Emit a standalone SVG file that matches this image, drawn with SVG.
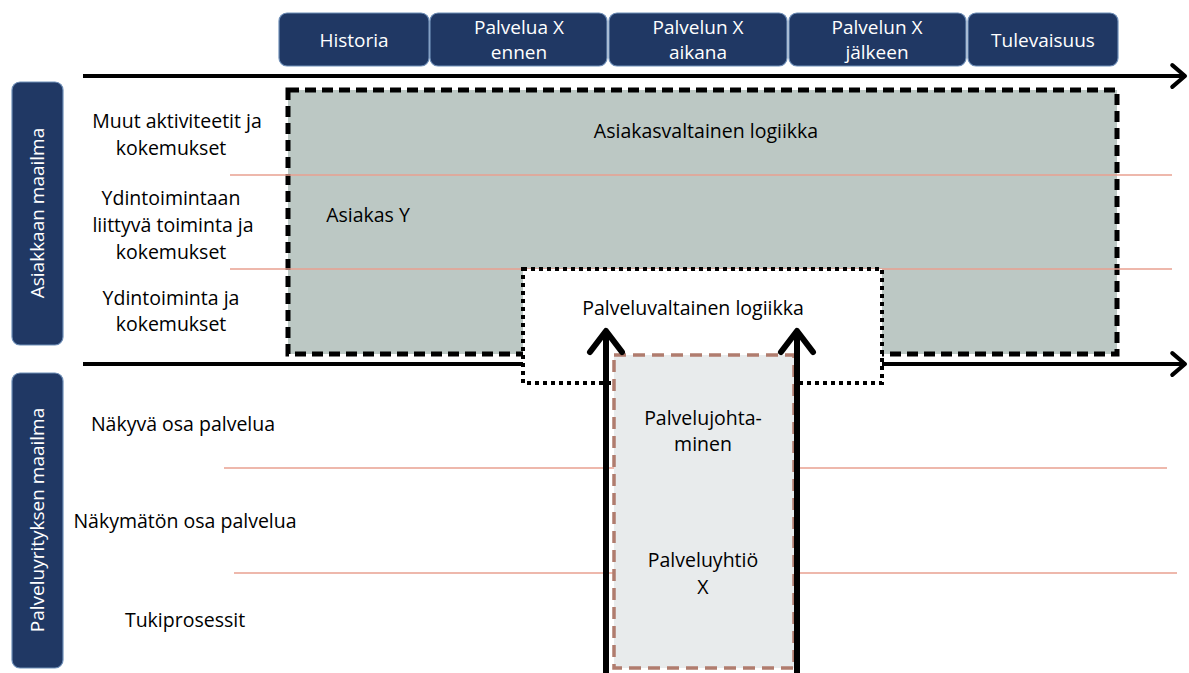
<svg xmlns="http://www.w3.org/2000/svg" width="1189" height="673" viewBox="0 0 1189 673">
<style>
text{font-family:"Open Sans","Liberation Sans",Arial,sans-serif;fill:#000;font-size:19.5px;text-anchor:middle}
.hdr rect,.side rect{fill:#203864;stroke:#6f8fb8;stroke-width:1.2}
.hdr text,.side text{fill:#fff;font-size:19px}
.sep{stroke:#e8a090;stroke-width:1.3}
.axis{stroke:#000;stroke-width:4;fill:none}
.up{stroke:#000;stroke-width:6;fill:none}
</style>
<defs>
<marker id="chev" markerWidth="20" markerHeight="30" refX="0" refY="0" orient="auto" markerUnits="userSpaceOnUse" viewBox="-20 -15 22 30" overflow="visible">
<path d="M-14,-12 L0,0 L-14,12" fill="none" stroke="#000" stroke-width="4.5" stroke-linecap="round" stroke-linejoin="round"/>
</marker>
<marker id="chevUp" markerWidth="30" markerHeight="40" refX="0" refY="0" orient="auto" markerUnits="userSpaceOnUse" viewBox="-26 -20 30 40" overflow="visible">
<path d="M-21,-16 L0,0 L-21,16" fill="none" stroke="#000" stroke-width="6" stroke-linecap="round" stroke-linejoin="round"/>
</marker>
</defs>
<rect width="1189" height="673" fill="#fff"/>

<g id="customer-logic">
<rect x="288" y="90" width="829" height="264" fill="#bcc8c4" stroke="#000" stroke-width="5" stroke-dasharray="11,6"/>
<text x="706" y="138">Asiakasvaltainen logiikka</text>
<text x="368" y="222">Asiakas Y</text>
</g>

<g id="separators">
<line class="sep" x1="230" y1="175" x2="1172" y2="175"/>
<line class="sep" x1="230" y1="269" x2="1172" y2="269"/>
<line class="sep" x1="224" y1="468" x2="1167" y2="468"/>
<line class="sep" x1="234" y1="573" x2="1177" y2="573"/>
</g>

<g id="connectors">
<line class="axis" x1="83" y1="76" x2="1185" y2="76" marker-end="url(#chev)"/>
<line class="axis" x1="83" y1="364" x2="1185" y2="364" marker-end="url(#chev)"/>
</g>

<g id="service-logic">
<rect x="523" y="269" width="359" height="114" fill="#fff" stroke="#000" stroke-width="4" stroke-dasharray="4,4"/>
<text x="693" y="315">Palveluvaltainen logiikka</text>
</g>

<g id="company-x">
<rect x="614" y="355" width="180" height="313" fill="#e8ebec" stroke="#b07c6e" stroke-width="3.5" stroke-dasharray="12,7"/>
<text x="703" y="425">Palvelujohta-</text>
<text x="703" y="451">minen</text>
<text x="703" y="567">Palveluyhtiö</text>
<text x="703" y="594">X</text>
</g>

<g id="up-arrows">
<line class="up" x1="606" y1="673" x2="606" y2="331" marker-end="url(#chevUp)"/>
<line class="up" x1="797" y1="673" x2="797" y2="331" marker-end="url(#chevUp)"/>
</g>

<g class="hdr" id="phase-historia"><rect x="279" y="13" width="150" height="53" rx="8"/><text x="354" y="47">Historia</text></g>
<g class="hdr" id="phase-ennen"><rect x="430" y="13" width="177" height="53" rx="8"/><text x="519" y="34">Palvelua X</text><text x="519" y="59">ennen</text></g>
<g class="hdr" id="phase-aikana"><rect x="609" y="13" width="178" height="53" rx="8"/><text x="698" y="34">Palvelun X</text><text x="698" y="59">aikana</text></g>
<g class="hdr" id="phase-jalkeen"><rect x="789" y="13" width="177" height="53" rx="8"/><text x="877" y="34">Palvelun X</text><text x="877" y="59">jälkeen</text></g>
<g class="hdr" id="phase-tulevaisuus"><rect x="968" y="13" width="150" height="53" rx="8"/><text x="1043" y="47">Tulevaisuus</text></g>

<g class="side" id="asiakkaan-maailma"><rect x="12" y="82" width="51" height="263" rx="8"/><text transform="translate(44,213) rotate(-90)">Asiakkaan maailma</text></g>
<g class="side" id="palveluyrityksen-maailma"><rect x="12" y="373" width="51" height="295" rx="8"/><text transform="translate(44,520) rotate(-90)">Palveluyrityksen maailma</text></g>

<g id="row-labels">
<text x="177" y="128">Muut aktiviteetit ja</text>
<text x="171" y="155">kokemukset</text>
<text x="171" y="205">Ydintoimintaan</text>
<text x="173" y="232">liittyvä toiminta ja</text>
<text x="171" y="259">kokemukset</text>
<text x="171" y="305">Ydintoiminta ja</text>
<text x="171" y="331">kokemukset</text>
<text x="183" y="431">Näkyvä osa palvelua</text>
<text x="185" y="528">Näkymätön osa palvelua</text>
<text x="185" y="627">Tukiprosessit</text>
</g>
</svg>
